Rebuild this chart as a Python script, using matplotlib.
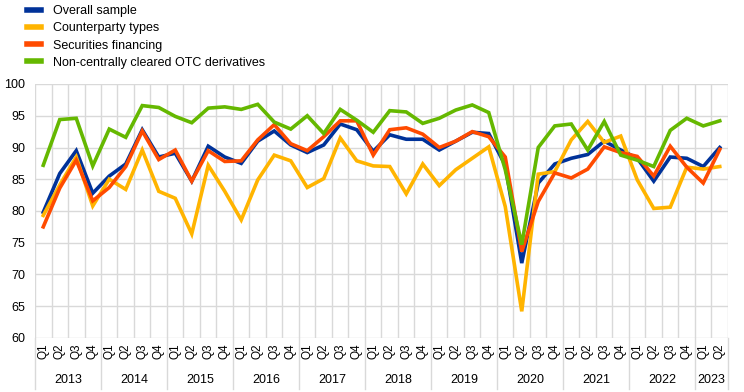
import numpy as np
import matplotlib.pyplot as plt
from matplotlib.lines import Line2D

plt.rcParams['font.family'] = ['Liberation Sans', 'DejaVu Sans']

# quarters 2013 Q1 .. 2023 Q2
years = ['2013', '2014', '2015', '2016', '2017', '2018', '2019', '2020', '2021', '2022', '2023']
quarter_labels = ['Q1', 'Q2', 'Q3', 'Q4'] * 10 + ['Q1', 'Q2']

overall = [79.8, 85.9, 89.5, 82.8, 85.5, 87.4, 92.8, 88.5, 89.1, 84.7, 90.2, 88.5,
           87.5, 91.0, 92.6, 90.4, 89.2, 90.4, 93.7, 92.8, 89.4, 92.0, 91.3, 91.3,
           89.6, 91.0, 92.4, 92.2, 87.2, 71.8, 84.4, 87.4, 88.3, 88.9, 91.0, 89.6,
           88.3, 84.7, 88.5, 88.3, 87.0, 90.0]
counterparty = [79.3, 84.1, 88.5, 80.8, 85.0, 83.4, 89.6, 83.1, 82.0, 76.4, 87.2, 83.1,
                78.6, 84.9, 88.8, 87.9, 83.7, 85.1, 91.5, 87.9, 87.1, 87.0, 82.7, 87.4,
                84.0, 86.5, 88.3, 90.1, 80.7, 64.2, 85.8, 86.2, 91.2, 94.1, 90.8, 91.8,
                84.9, 80.4, 80.6, 86.9, 86.6, 87.0]
securities = [77.5, 83.6, 88.0, 81.6, 83.7, 87.0, 92.6, 88.1, 89.6, 84.7, 89.5, 87.8,
              87.9, 91.2, 93.6, 90.6, 89.5, 91.7, 94.2, 94.2, 88.8, 92.8, 93.1, 92.1,
              90.0, 91.0, 92.5, 91.7, 88.5, 73.6, 81.5, 86.0, 85.2, 86.6, 90.1, 89.2,
              88.6, 85.5, 90.2, 86.9, 84.4, 89.7]
otc = [87.2, 94.4, 94.6, 87.1, 92.9, 91.6, 96.6, 96.3, 94.9, 93.9, 96.2, 96.4,
       96.0, 96.8, 94.0, 92.9, 95.0, 92.2, 96.0, 94.3, 92.4, 95.8, 95.6, 93.8,
       94.6, 95.9, 96.7, 95.5, 86.5, 74.7, 90.0, 93.4, 93.7, 89.6, 94.1, 88.8,
       88.0, 87.0, 92.7, 94.6, 93.4, 94.2]

series = [
    ('Overall sample', overall, '#003299'),
    ('Counterparty types', counterparty, '#FFB400'),
    ('Securities financing', securities, '#FF4B00'),
    ('Non-centrally cleared OTC derivatives', otc, '#65B800'),
]

x = np.arange(len(quarter_labels))

fig = plt.figure(figsize=(7.44, 3.92), dpi=100)
ax = fig.add_axes([35 / 744, 54 / 392, 693 / 744, 254 / 392])

for name, vals, col in series:
    ax.plot(x, vals, color=col, lw=2.6, label=name, solid_joinstyle='miter')

ax.set_xlim(-0.5, len(x) - 0.5)
ax.set_ylim(60, 100)
ax.set_yticks(np.arange(60, 101, 5))
ax.set_xticks(x)
ax.set_xticklabels(quarter_labels, rotation=90, fontsize=8.5)
ax.set_xticks(np.arange(-0.5, len(x), 1), minor=True)
ax.tick_params(axis='both', which='both', length=0, labelsize=9)
ax.tick_params(axis='x', pad=4, labelsize=8.5)
ax.tick_params(axis='y', pad=7)
ax.grid(axis='y', which='major', color='#d9d9d9', lw=1)
ax.grid(axis='x', which='minor', color='#d9d9d9', lw=1)
ax.set_axisbelow(True)
for s in ax.spines.values():
    s.set_visible(False)

# year labels and separators below the axis
trans = ax.get_xaxis_transform()
for k, yr in enumerate(years):
    start = 4 * k
    end = min(start + 4, len(x))
    ax.text((start + end - 1) / 2, -0.165, yr, transform=trans, ha='center', va='center', fontsize=9)
    ax.add_line(Line2D([start - 0.5, start - 0.5], [0, -0.2], transform=trans, color='#d9d9d9',
                       lw=1, clip_on=False))
ax.add_line(Line2D([len(x) - 0.5, len(x) - 0.5], [0, -0.2], transform=trans, color='#d9d9d9',
                   lw=1, clip_on=False))

fig.legend(loc='upper left', bbox_to_anchor=(22 / 744, 1.0), frameon=False, fontsize=9,
           handlelength=1.1, handletextpad=1.0, labelspacing=0.42, borderaxespad=0)
leg = fig.legends[0]
for h in leg.legend_handles:
    h.set_linewidth(4)

fig.savefig('out.png', dpi=100)
